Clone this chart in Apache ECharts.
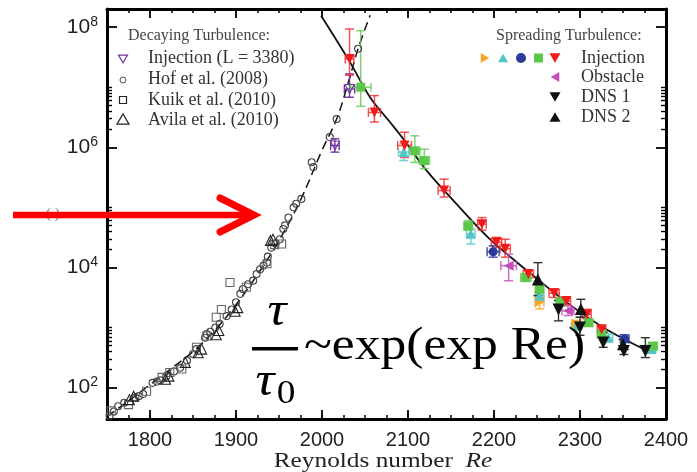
<!DOCTYPE html>
<html><head><meta charset="utf-8">
<script src="https://cdn.jsdelivr.net/npm/echarts@6/dist/echarts.min.js"></script>
<style>html,body{margin:0;padding:0;background:#fff}#c{width:697px;height:472px}</style>
</head><body><div id="c"></div>
<script>
// ---------- tick labels ----------
const xLabels = [1800, 1900, 2000, 2100, 2200, 2300, 2400];
const yLabels = [1e2, 1e4, 1e6, 1e8];
const yMinorTicks = [200,300,400,500,600,700,800,900,1000,
  2e4,3e4,4e4,5e4,6e4,7e4,8e4,9e4,1e5,
  2e6,3e6,4e6,5e6,6e6,7e6,8e6,9e6,1e7];

// ---------- fit curves [Re, tau] ----------
const decayFit = [[1750,33],[1775,60],[1800,112],[1825,209],[1850,398],[1875,891],[1900,2400],
  [1925,7600],[1950,2.8e4],[1975,1.32e5],[2000,8.9e5],[2017,2.95e6],[2030,1.12e7],[2042,4.37e7],[2056,1.58e8]];
const spreadFit = [[1999,1.55e8],[2032,2.69e7],[2056,6.76e6],[2079,2.63e6],[2096,1.29e6],[2120,4.37e5],
  [2155,1.2e5],[2193,3.16e4],[2222,1.38e4],[2250,6.46e3],[2290,2.29e3],[2327,1000],[2355,603],[2380,398]];

// ---------- decaying turbulence [Re, tau] ----------
const hof = [[1753,34],[1758,40],[1763,49],[1770,56],[1783,68],[1787,72],[1792,78],[1803,120],[1808,126],
  [1812,132],[1819,155],[1828,186],[1835,214],[1843,282],[1850,363],[1854,437],[1864,676],[1866,776],
  [1870,851],[1876,1000],[1881,1148],[1889,1549],[1895,1995],[1900,2630],[1905,3631],[1908,4365],
  [1914,5248],[1920,6026],[1924,7762],[1928,9333],[1932,10715],[1936,12023],[1937,15136],[1941,21380],
  [1946,25119],[1951,29512],[1955,43652],[1957,50119],[1961,67608],[1967,1e5],[1970,114815],[1976,138038],
  [1988,562341],[1990,467735],[2009,1.479e6],[2017,2.951e6],[2042,4.365e7]];
const kuik = [[1755,41],[1775,52],[1796,87],[1814,148],[1823,178],[1837,204],[1854,468],[1866,724],
  [1877,1479],[1883,1995],[1893,5623],[1912,4677],[1936,11482],[1945,23988],[1953,24547]];
const avila = [[1776,63],[1781,72],[1818,138],[1822,155],[1841,263],[1856,380],[1860,437],[1877,759],
  [1880,891],[1899,1862],[1902,2138],[1940,28184],[1943,29512]];
// [Re, tau, tauLow, tauHigh, ReErr]
const decayInjection = [[2015,1.07e6,8.3e5,1.38e6,5],[2032,9.3e6,6.8e6,1.66e7,6]];

// ---------- spreading turbulence [Re, tau, tauLow, tauHigh, ReErr] ----------
const injRed = [[2032,2.95e7,1.58e7,9.3e7,5],[2061,3.8e6,2.63e6,7.24e6,7],[2096,1.07e6,6.76e5,1.78e6,8],
  [2142,1.9e5,1.48e5,2.95e5,7],[2186,5.25e4,4.17e4,6.76e4,5],[2203,2.63e4,2.14e4,3.16e4,6],
  [2213,2.04e4,1.48e4,2.95e4,6],[2240,7.76e3,6.76e3,8.91e3,6],[2270,3.72e3,3.16e3,4.37e3,6],
  [2284,2.75e3,2.4e3,3.16e3,5],[2308,1.66e3,1.41e3,2.0e3,5],[2325,933,832,1070,5]];
const injGreen = [[2045,1e7,4.8e6,8.7e7,12],[2108,8.7e5,5.6e5,1.55e6,6],[2119,6.0e5,4.4e5,9.3e5,6],
  [2170,4.9e4,4.17e4,6.0e4,5],[2237,6.76e3,6.0e3,7.9e3,6],[2253,4.37e3,3.63e3,5.25e3,5],
  [2277,2.63e3,2.29e3,3.16e3,5],[2310,1.2e3,1.05e3,1.38e3,5],[2325,776,692,891,5],[2385,490,437,562,5]];
const injCyan = [[2095,8.3e5,6.0e5,1.15e6,6],[2173,3.63e4,2.45e4,4.37e4,5],[2253,3.39e3,2.82e3,3.98e3,5],
  [2296,1.07e3,933,1.26e3,6],[2333,676,603,776,5],[2383,437,389,501,5]];
const injBlue = [[2199,1.82e4,1.48e4,2.29e4,7],[2352,646,562,759,5]];
const injOrange = [[2253,2.63e3,2.04e3,3.16e3,5],[2296,1.15e3,1.0e3,1.32e3,5]];
const obstacle = [[2217,1.07e4,6.0e3,1.66e4,9],[2286,1.9e3,1.58e3,2.29e3,7]];
const dns1 = [[2275,2.0e3,1.29e3,2.82e3,0],[2300,1.0e3,741,1.48e3,0],[2327,562,468,832,0],
  [2351,407,355,468,0],[2376,407,316,676,0]];
const dns2 = [[2251,6.3e3,3.39e3,1.2e4,0],[2301,2.04e3,1.48e3,2.95e3,0],[2350,525,447,631,0]];

// ---------- styles ----------
const SYM_DOWN = 'path://M0,0L10,0L5,9Z';
const SYM_UP = 'path://M5,0L10,9L0,9Z';
const SYM_RIGHT = 'path://M0,0L9,5L0,10Z';
const SYM_LEFT = 'path://M9,0L0,5L9,10Z';
const SERIF = '"Liberation Serif", "DejaVu Serif", serif';
const SANS = '"Liberation Sans", Arial, sans-serif';

function errBars(rows, color, width) {
  return {
    type: 'custom', xAxisIndex: 0, yAxisIndex: 0, z: 2, clip: true, silent: true,
    data: rows.map(r => [r[0], r[1], r[2], r[3], r[4]]),
    encode: { x: 0, y: 1 },
    renderItem: function (params, api) {
      const re = api.value(0), tau = api.value(1), lo = api.value(2), hi = api.value(3), dx = api.value(4);
      const pLo = api.coord([re, lo]), pHi = api.coord([re, hi]);
      const st = { stroke: color, lineWidth: width || 1.5 };
      const cap = 4.5;
      const ch = [
        { type: 'line', shape: { x1: pLo[0], y1: pLo[1], x2: pHi[0], y2: pHi[1] }, style: st },
        { type: 'line', shape: { x1: pLo[0] - cap, y1: pLo[1], x2: pLo[0] + cap, y2: pLo[1] }, style: st },
        { type: 'line', shape: { x1: pHi[0] - cap, y1: pHi[1], x2: pHi[0] + cap, y2: pHi[1] }, style: st }
      ];
      if (dx > 0) {
        const pL = api.coord([re - dx, tau]), pR = api.coord([re + dx, tau]);
        ch.push({ type: 'line', shape: { x1: pL[0], y1: pL[1], x2: pR[0], y2: pR[1] }, style: st });
        ch.push({ type: 'line', shape: { x1: pL[0], y1: pL[1] - cap, x2: pL[0], y2: pL[1] + cap }, style: st });
        ch.push({ type: 'line', shape: { x1: pR[0], y1: pR[1] - cap, x2: pR[0], y2: pR[1] + cap }, style: st });
      }
      return { type: 'group', children: ch };
    }
  };
}
function pts(rows, symbol, size, color, extra) {
  return Object.assign({
    type: 'scatter', xAxisIndex: 0, yAxisIndex: 0, z: 3, symbol: symbol, symbolSize: size,
    data: rows.map(r => [r[0], r[1]]),
    itemStyle: { color: color, opacity: 1 }
  }, extra || {});
}
function hollow(rows, symbol, size, stroke, extra) {
  return Object.assign({
    type: 'scatter', xAxisIndex: 0, yAxisIndex: 0, z: 3, symbol: symbol, symbolSize: size,
    data: rows.map(r => [r[0], r[1]]),
    itemStyle: { color: 'rgba(255,255,255,0)', borderColor: stroke, borderWidth: 1.1, opacity: 1 }
  }, extra || {});
}

const C = { red: '#f01a1a', green: '#5cc84a', cyan: '#52c6c6', blue: '#2c3a9c', orange: '#f8a82c', magenta: '#c24cba', black: '#111', purple: '#7434a4' };

function xAx(pos, showLine) {
  return [
    { type: 'value', min: 1750, max: 2400, interval: 25, position: pos,
      axisLine: { show: showLine, onZero: false, lineStyle: { color: '#000', width: 3 } },
      axisTick: { show: true, inside: true, length: 4, lineStyle: { color: '#000', width: 1.5 } },
      axisLabel: { show: false }, splitLine: { show: false } },
    { type: 'value', min: 1750, max: 2400, position: pos,
      axisLine: { show: false, onZero: false },
      axisTick: { show: true, inside: true, length: 9, customValues: xLabels, lineStyle: { color: '#000', width: 1.8 } },
      axisLabel: { show: pos === 'bottom', customValues: xLabels, margin: 11, fontSize: 20, color: '#222', fontFamily: SANS,
        formatter: v => String(v) },
      splitLine: { show: false } }
  ];
}
function yAx(pos) {
  return [
    { type: 'log', logBase: 10, min: 30, max: 2e8, position: pos,
      axisLine: { show: true, onZero: false, lineStyle: { color: '#000', width: 3 } },
      axisTick: { show: true, inside: true, length: 10, customValues: yLabels, lineStyle: { color: '#000', width: 1.8 } },
      axisLabel: { show: pos === 'left', customValues: yLabels, margin: 9,
        formatter: v => '{b|10}{s|' + Math.round(Math.log10(v)) + '}',
        rich: { b: { fontSize: 21, fontFamily: SANS, color: '#222', lineHeight: 24 },
                s: { fontSize: 14, fontFamily: SANS, color: '#222', verticalAlign: 'top', lineHeight: 24, padding: [0, 0, 10, 0] } } },
      splitLine: { show: false } },
    { type: 'log', logBase: 10, min: 30, max: 2e8, position: pos,
      axisLine: { show: false, onZero: false },
      axisTick: { show: true, inside: true, length: 5, customValues: yMinorTicks, lineStyle: { color: '#000', width: 1.4 } },
      axisLabel: { show: false }, splitLine: { show: false } }
  ];
}

// legend helpers (graphic)
function tri(dir, cx, cy, s, fill, stroke) {
  const h = s / 2;
  let p;
  if (dir === 'down') p = [[cx - h, cy - h * 0.85], [cx + h, cy - h * 0.85], [cx, cy + h * 0.85]];
  else if (dir === 'up') p = [[cx - h, cy + h * 0.85], [cx + h, cy + h * 0.85], [cx, cy - h * 0.85]];
  else if (dir === 'right') p = [[cx - h * 0.85, cy - h], [cx - h * 0.85, cy + h], [cx + h * 0.85, cy]];
  else p = [[cx + h * 0.85, cy - h], [cx + h * 0.85, cy + h], [cx - h * 0.85, cy]];
  return { type: 'polygon', shape: { points: p }, style: { fill: fill, stroke: stroke || null, lineWidth: 1.2 } };
}
function txt(t, x, y, size, color, extra) {
  return Object.assign({ type: 'text', x: x, y: y,
    style: { text: t, fontSize: size, fontFamily: SERIF, fill: color || '#222', textAlign: 'left', textVerticalAlign: 'middle' } }, extra || {});
}

const graphics = [
  // left legend
  txt('Decaying Turbulence:', 128, 36, 16, '#444'),
  tri('down', 123, 59, 9, 'none', C.purple), txt('Injection (L = 3380)', 148, 58, 18, '#333'),
  { type: 'circle', shape: { cx: 123, cy: 80, r: 3 }, style: { fill: 'none', stroke: '#555', lineWidth: 1 } },
  txt('Hof et al. (2008)', 148, 79, 18, '#333'),
  { type: 'rect', shape: { x: 119.5, y: 96.5, width: 7, height: 7 }, style: { fill: 'none', stroke: '#222', lineWidth: 1.2 } },
  txt('Kuik et al. (2010)', 148, 100, 18, '#333'),
  tri('up', 123, 119, 12, 'none', '#222'), txt('Avila et al. (2010)', 148, 120, 18, '#333'),
  // right legend
  txt('Spreading Turbulence:', 496, 36, 16, '#444'),
  tri('right', 485, 58, 10, C.orange), tri('up', 503, 58, 10, C.cyan),
  { type: 'circle', shape: { cx: 521, cy: 58, r: 5 }, style: { fill: C.blue } },
  { type: 'rect', shape: { x: 534, y: 53.5, width: 9, height: 9 }, style: { fill: C.green } },
  tri('down', 555, 58, 11, C.red), txt('Injection', 581, 58, 18, '#333'),
  tri('left', 555, 77, 10, C.magenta), txt('Obstacle', 581, 77, 18, '#333'),
  tri('down', 555, 97, 11, C.black), txt('DNS 1', 581, 97, 18, '#333'),
  tri('up', 555, 117, 11, C.black), txt('DNS 2', 581, 117, 18, '#333'),
  // x axis title
  { type: 'text', x: 383, y: 461, scaleX: 1.15,
    style: { text: '{a|Reynolds number  }{b|Re}', textAlign: 'center', textVerticalAlign: 'middle',
      rich: { a: { fontSize: 22, fontFamily: SERIF, fill: '#222', color: '#222' },
              b: { fontSize: 22, fontFamily: SERIF, fontStyle: 'italic', fill: '#222', color: '#222' } } } },
  // artifact glyph
  txt('( )', 46, 214, 15, '#777'),
  // red arrow
  { type: 'polyline', shape: { points: [[13, 215], [250, 215]] }, style: { stroke: '#ff0000', lineWidth: 6.5, fill: null }, z: 100 },
  { type: 'polyline', shape: { points: [[220, 198], [254, 215], [220, 232]] }, style: { stroke: '#ff0000', lineWidth: 7, fill: null, lineCap: 'round', lineJoin: 'miter' }, z: 100 },
  // formula
  { type: 'text', x: 277, y: 312, scaleX: 1.1, style: { text: '\u03c4', fontSize: 48, fontFamily: SERIF, fontStyle: 'italic', fill: '#000', textAlign: 'center', textVerticalAlign: 'middle' }, z: 100 },
  { type: 'rect', shape: { x: 252, y: 347, width: 46, height: 3.5 }, style: { fill: '#000' }, z: 100 },
  { type: 'text', x: 265, y: 382, scaleX: 1.1, style: { text: '\u03c4', fontSize: 48, fontFamily: SERIF, fontStyle: 'italic', fill: '#000', textAlign: 'center', textVerticalAlign: 'middle' }, z: 100 },
  { type: 'text', x: 286, y: 394, scaleX: 1.1, style: { text: '0', fontSize: 34, fontFamily: SERIF, fill: '#000', textAlign: 'center', textVerticalAlign: 'middle' }, z: 100 },
  { type: 'text', x: 304, y: 347, scaleX: 1.12, style: { text: '~exp(exp Re)', fontSize: 46, fontFamily: SERIF, fill: '#000', textAlign: 'left', textVerticalAlign: 'middle' }, z: 100 }
];

const chart = echarts.init(document.getElementById('c'), null, { renderer: 'canvas' });
chart.setOption({
  animation: false,
  backgroundColor: '#fff',
  grid: { left: 107, right: 31, top: 9, bottom: 53, containLabel: false },
  xAxis: xAx('bottom', true).concat(xAx('top', true)),
  yAxis: yAx('left').concat(yAx('right')),
  graphic: graphics,
  series: [
    { type: 'line', xAxisIndex: 0, yAxisIndex: 0, data: decayFit, smooth: 0.4, symbol: 'none', z: 1,
      lineStyle: { color: '#111', width: 1.5, type: [9, 5] } },
    { type: 'line', xAxisIndex: 0, yAxisIndex: 0, data: spreadFit, smooth: 0.4, symbol: 'none', z: 1,
      lineStyle: { color: '#111', width: 1.8 } },
    hollow(hof, 'circle', 7, '#444'),
    hollow(kuik, 'rect', 8, '#666'),
    hollow(avila, 'triangle', 10, '#222'),
    errBars(decayInjection, C.purple, 1.4),
    hollow(decayInjection, SYM_DOWN, 9, C.purple),
    errBars(injRed, 'rgba(240,40,40,0.8)'),
    errBars(injGreen, 'rgba(96,200,80,0.8)'),
    errBars(injCyan, 'rgba(82,198,198,0.8)'),
    errBars(injBlue, 'rgba(44,58,156,0.85)'),
    errBars(injOrange, 'rgba(248,168,44,0.85)'),
    errBars(obstacle, 'rgba(194,76,186,0.8)'),
    errBars(dns1, '#333', 1.4),
    errBars(dns2, '#333', 1.4),
    pts(injOrange, SYM_RIGHT, 10, C.orange),
    pts(injCyan, SYM_UP, 10, C.cyan),
    pts(injBlue, 'circle', 9, C.blue),
    pts(injGreen, 'rect', 9, C.green),
    pts(injRed, SYM_DOWN, 10, C.red),
    pts(obstacle, SYM_LEFT, 10, C.magenta),
    pts(dns1, SYM_DOWN, 12, C.black),
    pts(dns2, SYM_UP, 12, C.black)
  ]
});
</script>
</body></html>
